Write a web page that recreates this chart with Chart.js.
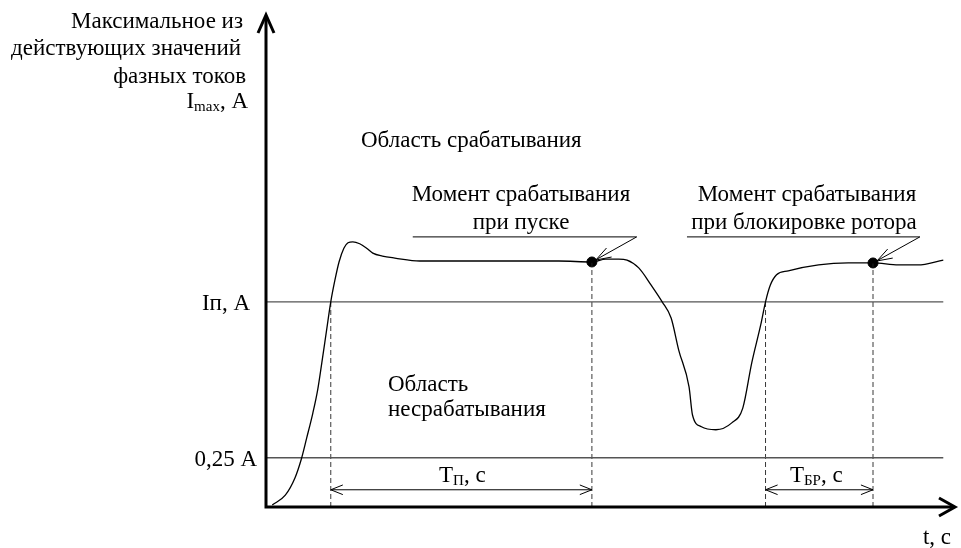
<!DOCTYPE html>
<html>
<head>
<meta charset="utf-8">
<script src="https://cdn.jsdelivr.net/npm/chart.js@4"></script>
<style>
  body { margin: 0; background: #fff; }
  canvas { display: block; }
</style>
</head>
<body>
<canvas id="chart" width="961" height="548"></canvas>
<script>
// Curve: max of RMS phase currents vs time (schematic units)
const curveT = [0.09, 0.28, 0.42, 0.51, 0.59, 0.68, 0.75, 0.81, 0.88, 0.94, 1.0, 1.06, 1.13, 1.19, 1.26, 1.36, 1.46, 1.55, 1.69, 1.87, 2.23, 2.95, 3.68, 4.25, 4.73, 4.93, 5.12, 5.24, 5.41, 5.59, 5.75, 5.88, 5.99, 6.14, 6.19, 6.32, 6.53, 6.76, 6.92, 7.05, 7.18, 7.25, 7.32, 7.41, 7.58, 8.02, 8.45, 8.81, 9.18, 9.46, 9.83];
const curveI = [0.04, 0.24, 0.59, 0.96, 1.40, 1.91, 2.38, 2.93, 3.60, 4.17, 4.61, 4.98, 5.26, 5.37, 5.39, 5.35, 5.26, 5.16, 5.10, 5.06, 5.00, 5.00, 5.00, 5.00, 4.98, 5.04, 5.04, 5.02, 4.86, 4.51, 4.17, 3.84, 3.19, 2.44, 1.87, 1.63, 1.57, 1.71, 2.01, 2.93, 3.70, 4.17, 4.51, 4.72, 4.80, 4.92, 4.96, 4.96, 4.92, 4.92, 5.02];

// threshold levels
const levelNames = ['Iп, А', '0,25 А'];
const levelValues = [4.17, 1.0];
const levelEnd = 9.83;

// dashed marks: moments of crossing / tripping
const markT = [0.94, 4.73, 7.25, 8.81];
const markTop = [4.17, 4.98, 4.17, 4.96];

// tripping points
const tripT = [4.73, 8.81];
const tripI = [4.98, 4.96];

// interval arrows (T_П and T_БР)
const intervalFrom = [0.94, 7.25];
const intervalTo = [4.73, 8.81];
const intervalLevel = 0.35;

// callout leaders
const calloutFrom = [2.13, 6.11];
const calloutTo = [5.38, 9.49];
const calloutLevel = 5.49;

const FONT = '"Liberation Serif", "Times New Roman", serif';
const FS = 23;

const datasets = [];

datasets.push({
  data: curveT.map((t, i) => ({ x: t, y: curveI[i] })),
  borderColor: '#000', borderWidth: 1.3, pointRadius: 0,
  cubicInterpolationMode: 'monotone'
});

levelValues.forEach(v => {
  datasets.push({
    data: [{ x: 0, y: v }, { x: levelEnd, y: v }],
    borderColor: '#555', borderWidth: 1.4, pointRadius: 0
  });
});

markT.forEach((t, i) => {
  datasets.push({
    data: [{ x: t, y: 0 }, { x: t, y: markTop[i] }],
    borderColor: '#222', borderWidth: 0.9, borderDash: [5, 3], pointRadius: 0
  });
});

intervalFrom.forEach((t, i) => {
  datasets.push({
    data: [{ x: t, y: intervalLevel }, { x: intervalTo[i], y: intervalLevel }],
    borderColor: '#000', borderWidth: 1, pointRadius: 0, arrows: 'both'
  });
});

calloutFrom.forEach((t, i) => {
  datasets.push({
    data: [{ x: t, y: calloutLevel }, { x: calloutTo[i], y: calloutLevel }, { x: tripT[i], y: tripI[i] }],
    borderColor: '#000', borderWidth: 1, pointRadius: 0, arrows: 'end'
  });
});

datasets.push({
  type: 'scatter',
  data: tripT.map((t, i) => ({ x: t, y: tripI[i] })),
  backgroundColor: '#000', borderColor: '#000', pointRadius: 5
});

function openHead(ctx, x1, y1, x2, y2, len, spread) {
  const a = Math.atan2(y2 - y1, x2 - x1);
  ctx.beginPath();
  ctx.moveTo(x2 - len * Math.cos(a - spread), y2 - len * Math.sin(a - spread));
  ctx.lineTo(x2, y2);
  ctx.lineTo(x2 - len * Math.cos(a + spread), y2 - len * Math.sin(a + spread));
  ctx.stroke();
}

// text with a subscript part, e.g. I_max, A
function subText(ctx, main, sub, rest, x, y, align) {
  const big = FS + 'px ' + FONT, small = Math.round(FS * 0.66) + 'px ' + FONT;
  ctx.font = big;
  const w1 = ctx.measureText(main).width;
  const w3 = ctx.measureText(rest).width;
  ctx.font = small;
  const w2 = ctx.measureText(sub).width;
  const total = w1 + w2 + w3;
  const sx = align === 'right' ? x - total : align === 'center' ? x - total / 2 : x;
  ctx.textAlign = 'left';
  ctx.font = big;
  ctx.fillText(main, sx, y);
  ctx.fillText(rest, sx + w1 + w2, y);
  ctx.font = small;
  ctx.fillText(sub, sx + w1, y + 3);
  ctx.font = big;
}

const decorPlugin = {
  id: 'decor',
  afterDatasetsDraw(chart) {
    const ctx = chart.ctx;
    const xs = chart.scales.x, ys = chart.scales.y;
    const area = chart.chartArea;
    ctx.save();

    // arrowheads on lines
    chart.data.datasets.forEach((ds, i) => {
      if (!ds.arrows) return;
      const pts = chart.getDatasetMeta(i).data;
      ctx.strokeStyle = '#000';
      ctx.lineWidth = 1;
      const n = pts.length;
      if (ds.arrows === 'both') {
        openHead(ctx, pts[1].x, pts[1].y, pts[0].x, pts[0].y, 13, 0.38);
        openHead(ctx, pts[0].x, pts[0].y, pts[1].x, pts[1].y, 13, 0.38);
      } else {
        openHead(ctx, pts[n - 2].x, pts[n - 2].y, pts[n - 1].x + 4, pts[n - 1].y - 2, 16, 0.33);
      }
    });

    // axes
    const ox = xs.getPixelForValue(0), oy = ys.getPixelForValue(0);
    ctx.strokeStyle = '#000';
    ctx.lineWidth = 3;
    ctx.lineCap = 'butt';
    ctx.beginPath();
    ctx.moveTo(ox, oy + 1.5);
    ctx.lineTo(ox, area.top + 2);
    ctx.moveTo(ox - 1.5, oy);
    ctx.lineTo(area.right - 2, oy);
    ctx.stroke();
    ctx.lineJoin = 'miter';
    ctx.beginPath();
    ctx.moveTo(ox - 8, area.top + 18);
    ctx.lineTo(ox, area.top);
    ctx.lineTo(ox + 8, area.top + 18);
    ctx.stroke();
    ctx.beginPath();
    ctx.moveTo(area.right - 16, oy - 9);
    ctx.lineTo(area.right, oy);
    ctx.lineTo(area.right - 16, oy + 9);
    ctx.stroke();

    // texts
    ctx.fillStyle = '#000';
    ctx.textBaseline = 'alphabetic';
    ctx.font = FS + 'px ' + FONT;
    ctx.textAlign = 'right';
    ctx.fillText('Максимальное из', 243, 28);
    ctx.fillText('действующих значений', 241, 55);
    ctx.fillText('фазных токов', 246, 83);
    subText(ctx, 'I', 'max', ', А', 248, 108, 'right');

    levelNames.forEach((name, i) => {
      ctx.font = FS + 'px ' + FONT;
      ctx.textAlign = 'right';
      ctx.fillText(name, i === 0 ? 250 : 257, ys.getPixelForValue(levelValues[i]) + 8);
    });

    ctx.font = FS + 'px ' + FONT;
    ctx.textAlign = 'left';
    ctx.fillText('Область срабатывания', 361, 147);
    ctx.fillText('Область', 388, 391);
    ctx.fillText('несрабатывания', 388, 416);

    ctx.textAlign = 'center';
    ctx.fillText('Момент срабатывания', 521, 201);
    ctx.fillText('при пуске', 521, 229);
    ctx.fillText('Момент срабатывания', 807, 201);
    ctx.fillText('при блокировке ротора', 804, 229);

    subText(ctx, 'T', 'П', ', с', (xs.getPixelForValue(intervalFrom[0]) + xs.getPixelForValue(intervalTo[0])) / 2 + 1, 482, 'center');
    subText(ctx, 'T', 'БР', ', с', (xs.getPixelForValue(intervalFrom[1]) + xs.getPixelForValue(intervalTo[1])) / 2 - 3, 482, 'center');

    ctx.font = FS + 'px ' + FONT;
    ctx.textAlign = 'right';
    ctx.fillText('t, с', 951, 544);
    ctx.restore();
  }
};

new Chart(document.getElementById('chart'), {
  type: 'line',
  data: { datasets },
  options: {
    responsive: false,
    animation: false,
    layout: { padding: { left: 266, right: 4, top: 15, bottom: 41 } },
    plugins: { legend: { display: false }, tooltip: { enabled: false } },
    scales: {
      x: { type: 'linear', min: 0, max: 10, display: false },
      y: { type: 'linear', min: 0, max: 10, display: false }
    },
    clip: false
  },
  plugins: [decorPlugin]
});
</script>
</body>
</html>
